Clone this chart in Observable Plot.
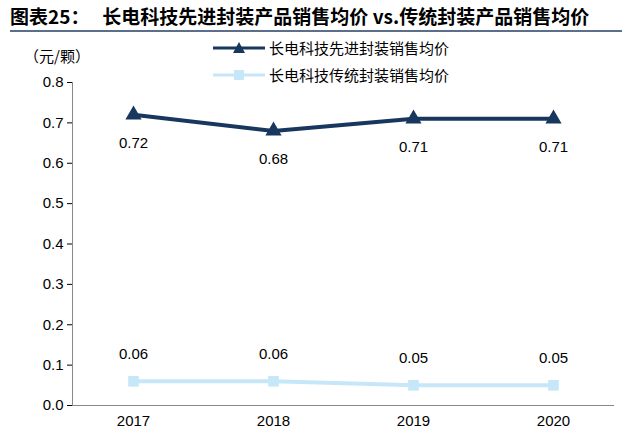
<!DOCTYPE html>
<html><head><meta charset="utf-8">
<script src="https://cdn.jsdelivr.net/npm/d3@7"></script>
<script src="https://cdn.jsdelivr.net/npm/@observablehq/plot@0.6"></script>
<style>
body{margin:0;width:640px;height:444px;background:#fff;font-family:"Liberation Sans",Arial,"Noto Sans CJK SC",sans-serif;position:relative;overflow:hidden}
#title{position:absolute;left:10px;top:4px;width:612px;font-weight:bold;font-size:19px;font-family:"Noto Sans CJK SC",sans-serif;border-bottom:2px solid #5b6f8c;padding-bottom:2px;line-height:24px}
#unit{position:absolute;left:24px;top:45px;font-size:15px;font-family:"Noto Sans CJK SC",sans-serif;color:#000}
.leg{position:absolute;left:213px;font-size:15px;font-family:"Noto Sans CJK SC",sans-serif;display:flex;align-items:center}
#chart{position:absolute;left:0;top:35px}
</style></head><body>
<div id="title">图表25：&nbsp;&nbsp;&nbsp;长电科技先进封装产品销售均价 vs.传统封装产品销售均价</div>
<div id="unit">（元/颗）</div>
<div class="leg" style="top:37px"><svg width="52" height="14"><line x1="0" y1="7" x2="52" y2="7" stroke="#17375E" stroke-width="3"/><path d="M26,1 L32,12 L20,12Z" fill="#17375E"/></svg><span style="margin-left:4px">长电科技先进封装销售均价</span></div>
<div class="leg" style="top:64px"><svg width="52" height="14"><line x1="0" y1="7" x2="52" y2="7" stroke="#C6E7F8" stroke-width="3"/><rect x="21" y="2" width="10" height="10" fill="#C6E7F8"/></svg><span style="margin-left:4px">长电科技传统封装销售均价</span></div>
<div id="chart"></div>
<script>
const years=["2017","2018","2019","2020"];
const advanced=[0.72,0.68,0.71,0.71];
const traditional=[0.06,0.06,0.05,0.05];
const adv=years.map((y,i)=>({year:y,v:advanced[i]}));
const tra=years.map((y,i)=>({year:y,v:traditional[i]}));
const p=Plot.plot({
 width:640,height:409,marginLeft:72,marginRight:26,marginTop:47,marginBottom:39,
 style:{fontFamily:"Liberation Sans, Arial, sans-serif",fontSize:"15px",color:"#000"},
 x:{type:"point",domain:years,padding:0.43,label:null,tickSize:0,tickPadding:10},
 y:{domain:[0,0.8],ticks:d3.range(0,0.81,0.1),tickFormat:d=>d.toFixed(1),label:null,tickSize:5,tickPadding:4},
 marks:[
  Plot.ruleY([0],{stroke:"#888"}),
  Plot.frame({anchor:"left",stroke:"#888"}),
  Plot.line(tra,{x:"year",y:"v",stroke:"#C6E7F8",strokeWidth:4}),
  Plot.dot(tra,{x:"year",y:"v",symbol:"square",r:6,fill:"#C6E7F8"}),
  Plot.text(tra,{x:"year",y:"v",text:d=>d.v.toFixed(2),dy:-27,fontSize:15}),
  Plot.line(adv,{x:"year",y:"v",stroke:"#17375E",strokeWidth:4}),
  Plot.dot(adv,{x:"year",y:"v",symbol:"triangle",r:6,fill:"#17375E"}),
  Plot.text(adv,{x:"year",y:"v",text:d=>d.v.toFixed(2),dy:28,fontSize:15})
 ]
});
document.getElementById("chart").append(p);
</script></body></html>
